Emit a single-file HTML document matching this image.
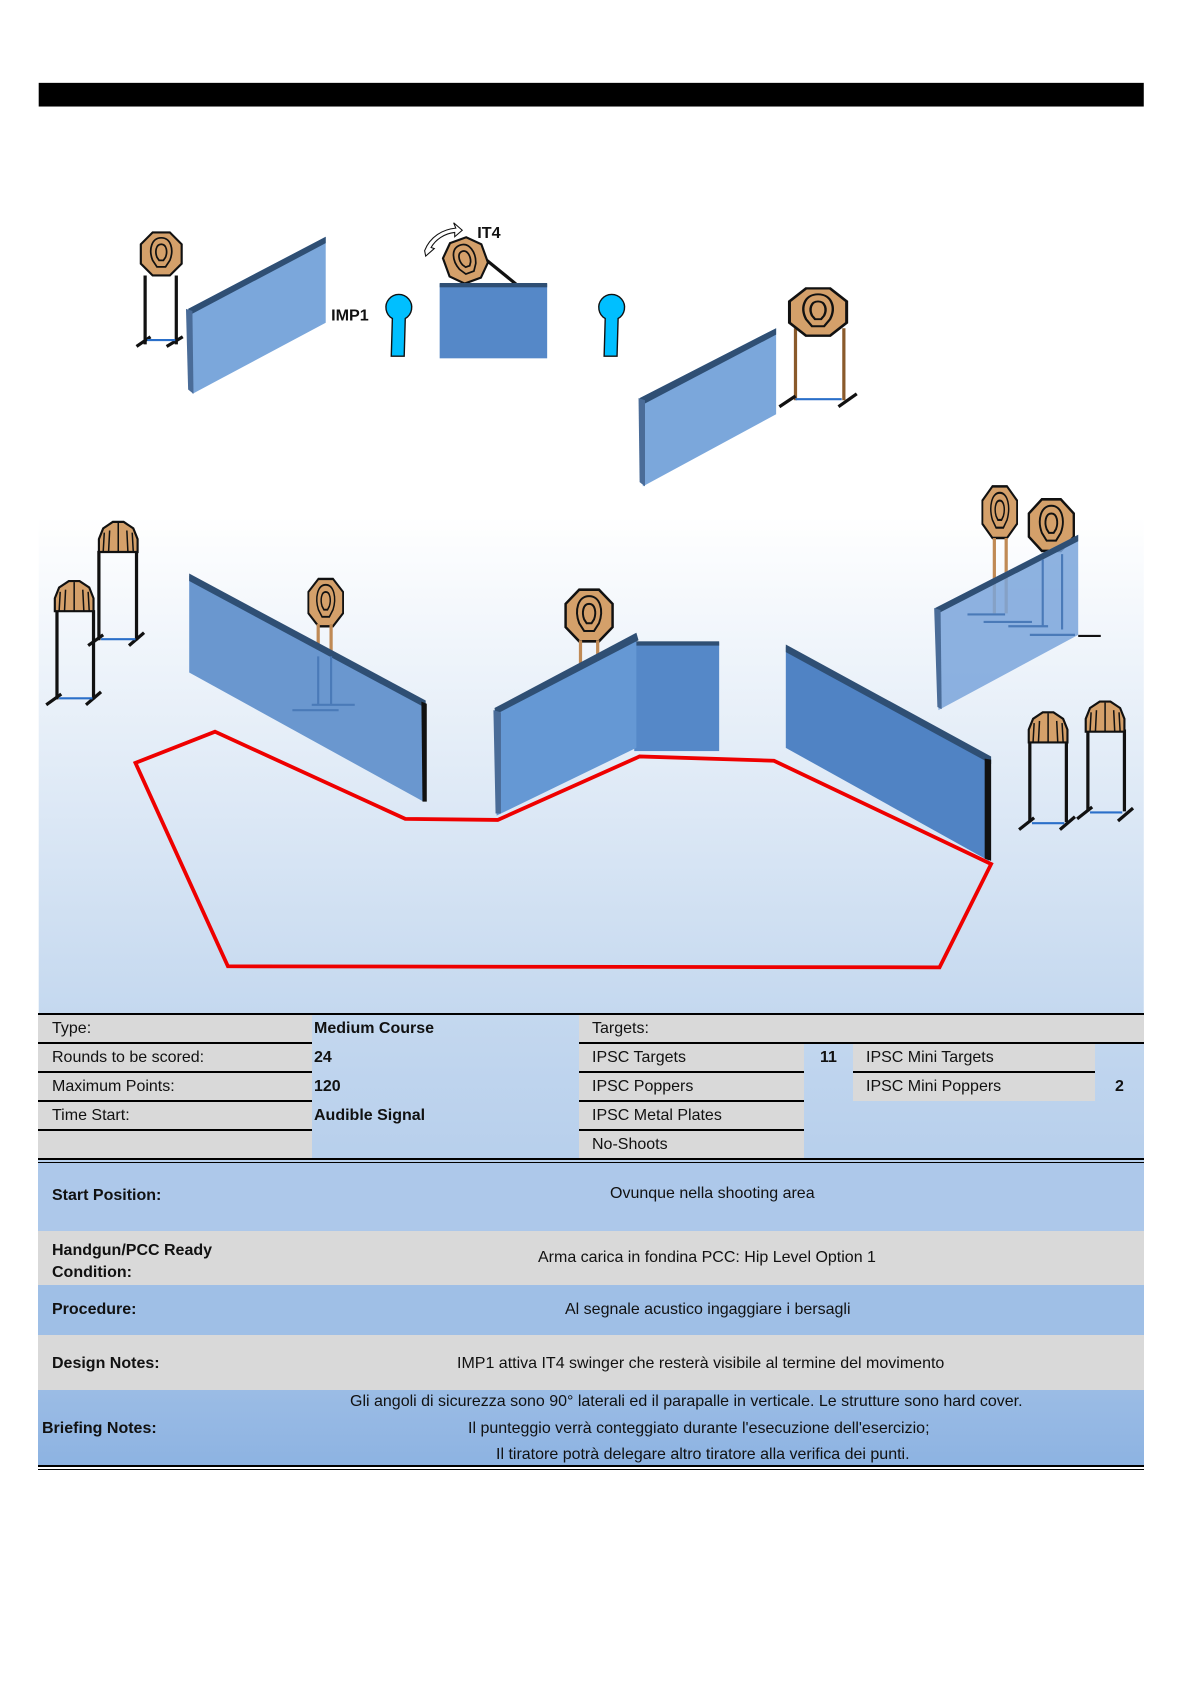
<!DOCTYPE html>
<html><head><meta charset="utf-8">
<style>
html,body{margin:0;padding:0;background:#fff;}
#pg{position:relative;width:1190px;height:1684px;overflow:hidden;font-family:"Liberation Sans",Arial,sans-serif;}
svg{position:absolute;left:0;top:0;}
.t{position:absolute;font-size:16px;color:#111;white-space:nowrap;}
.b{font-weight:bold;}
.g{position:absolute;background:#d9d9d9;}
.ln{position:absolute;background:#000;height:2px;}
</style></head><body><div id="pg">
<svg width="1190" height="1684" viewBox="0 0 1107 1565" preserveAspectRatio="none">
<defs>
<linearGradient id="bg" x1="0" y1="0" x2="0" y2="1">
<stop offset="0" stop-color="#ffffff"/><stop offset="1" stop-color="#c4d8ef"/></linearGradient>
<g id="tg">
<polygon points="-8,-20 8,-20 19,-9 19,9 8,20 -8,20 -19,9 -19,-9" fill="#d4a06a" stroke="#111" stroke-width="2"/>
<path d="M0,-15 C9,-15 12,-4 8,6 L4,12 L-4,12 L-8,6 C-12,-4 -9,-15 0,-15Z" fill="none" stroke="#111" stroke-width="1.6"/>
<path d="M0,-9 C5,-9 6,-2 4,3 L2,6 L-2,6 L-4,3 C-6,-2 -5,-9 0,-9Z" fill="none" stroke="#111" stroke-width="1.6"/>
</g>
<g id="tgh">
<path d="M-14,-12 L-5,-18 L5,-18 L14,-12 L18,-2 L18,10 L-18,10 L-18,-2Z" fill="#d4a06a" stroke="#111" stroke-width="2"/>
<path d="M-9,10 L-8,-10 M0,10 L0,-17 M9,10 L8,-10 M-14,10 L-13,-8 M14,10 L13,-8" stroke="#111" stroke-width="1.4" fill="none"/>
</g>
</defs>
<rect x="36" y="480" width="1028" height="464" fill="url(#bg)"/>
<rect x="36" y="77" width="1028" height="22" fill="#000"/>

<g stroke="#111" stroke-width="3"><line x1="135" y1="256" x2="135" y2="320"/><line x1="164" y1="256" x2="164" y2="320"/>
<line x1="127" y1="322" x2="140" y2="313"/><line x1="155" y1="322" x2="170" y2="313"/></g>
<line x1="137" y1="316" x2="163" y2="316" stroke="#2a6fc9" stroke-width="2"/>
<use href="#tg" transform="translate(150,236)"/>
<polygon points="175,287 303,220 303,300 179,366" fill="#7ba7db"/>
<polygon points="175,287 303,220 303,226 178,292" fill="#2f4f74"/>
<polygon points="173,287 179,289 180,366 175,362" fill="#4a6c98"/>
<text x="308" y="298" font-family="Liberation Sans,sans-serif" font-weight="bold" font-size="15" fill="#111">IMP1</text>
<g fill="#00bfff" stroke="#111" stroke-width="1.3">
<path d="M365,296 A12,12 0 1 1 377,296 L376,331 L364,331Z"/>
<path d="M563,296 A12,12 0 1 1 575,296 L574,331 L562,331Z"/></g>
<line x1="448" y1="238" x2="480" y2="264" stroke="#111" stroke-width="3"/>
<use href="#tg" transform="translate(433,242) rotate(-20)"/>
<path d="M395,233 C400,220 412,213 424,212 L422,207 L430,214 L423,220 L423,216 C413,217 405,223 401,230 L404,231 L396,238Z" fill="#fff" stroke="#111" stroke-width="1"/>
<text x="444" y="221" font-family="Liberation Sans,sans-serif" font-weight="bold" font-size="15" fill="#111">IT4</text>
<rect x="409" y="264" width="100" height="69" fill="#5588c8"/>
<rect x="409" y="263" width="100" height="4" fill="#2f4f74"/>
<g stroke="#8a5a2b" stroke-width="3"><line x1="740" y1="305" x2="740" y2="372"/><line x1="785" y1="305" x2="785" y2="372"/></g>
<g stroke="#111" stroke-width="3"><line x1="725" y1="378" x2="740" y2="368"/><line x1="780" y1="378" x2="797" y2="366"/></g>
<line x1="740" y1="371" x2="783" y2="371" stroke="#2a6fc9" stroke-width="2"/>
<use href="#tg" transform="translate(761,290) scale(1.4,1.1)"/>
<polygon points="595,370 722,305 722,385 598,452" fill="#7ba7db"/>
<polygon points="595,370 722,305 722,311 598,376" fill="#2f4f74"/>
<polygon points="594,370 600,372 600,452 595,448" fill="#4a6c98"/>

<g stroke="#111" stroke-width="3"><line x1="92" y1="512" x2="92" y2="595"/><line x1="127" y1="512" x2="127" y2="595"/>
<line x1="82" y1="600" x2="96" y2="590"/><line x1="120" y1="600" x2="134" y2="588"/></g>
<line x1="94" y1="594" x2="126" y2="594" stroke="#2a6fc9" stroke-width="2"/>
<use href="#tgh" transform="translate(110,503)"/>
<g stroke="#111" stroke-width="3"><line x1="53" y1="567" x2="53" y2="650"/><line x1="87" y1="567" x2="87" y2="650"/>
<line x1="43" y1="655" x2="57" y2="645"/><line x1="80" y1="655" x2="94" y2="643"/></g>
<line x1="55" y1="649" x2="86" y2="649" stroke="#2a6fc9" stroke-width="2"/>
<use href="#tgh" transform="translate(69,558)"/>

<use href="#tg" transform="translate(303,560) scale(0.85,1.1)"/>
<g stroke="#c08a55" stroke-width="3"><line x1="296" y1="580" x2="296" y2="620"/><line x1="308" y1="580" x2="308" y2="620"/></g>
<polygon points="176,535 394,652 394,745 176,625" fill="#6a97cf"/>
<polygon points="176,533 396,651 396,658 176,540" fill="#2f4f74"/>
<polygon points="392,652 397,654 397,745 393,745" fill="#111"/>
<g stroke="#4a7ab8" stroke-width="2" fill="none"><line x1="296" y1="610" x2="296" y2="655"/><line x1="308" y1="610" x2="308" y2="655"/><line x1="272" y1="660" x2="315" y2="660"/><line x1="290" y1="655" x2="330" y2="655"/></g>

<use href="#tg" transform="translate(548,572) scale(1.15,1.2)"/>
<g stroke="#c08a55" stroke-width="3"><line x1="540" y1="595" x2="540" y2="620"/><line x1="556" y1="595" x2="556" y2="615"/></g>
<rect x="590" y="597" width="79" height="101" fill="#5588c8"/>
<rect x="590" y="596" width="79" height="4" fill="#2f4f74"/>
<polygon points="460,660 592,590 592,695 462,758" fill="#6598d4"/>
<polygon points="460,658 592,588 594,595 461,664" fill="#2f4f74"/>
<polygon points="459,660 466,662 466,756 461,756" fill="#4a6c98"/>

<polygon points="731,601 920,705 920,800 731,695" fill="#5083c4"/>
<polygon points="731,599 922,703 922,710 731,606" fill="#2f4f74"/>
<polygon points="916,705 922,706 922,800 916,798" fill="#111"/>

<use href="#tg" transform="translate(930,476) scale(0.85,1.2)"/>
<g stroke="#c08a55" stroke-width="3"><line x1="925" y1="500" x2="925" y2="570"/><line x1="936" y1="500" x2="936" y2="570"/></g>
<use href="#tg" transform="translate(978,488) scale(1.1,1.2)"/>
<polygon points="870,565 1003,497 1003,590 873,660" fill="#7aa5db" fill-opacity="0.85"/>
<polygon points="870,565 1003,497 1003,503 871,571" fill="#2f4f74"/>
<polygon points="869,565 875,567 876,659 872,657" fill="#4a6c98"/>
<g stroke="#4a7ab8" stroke-width="2" fill="none"><line x1="970" y1="520" x2="970" y2="582"/><line x1="988" y1="515" x2="988" y2="585"/><line x1="900" y1="571" x2="935" y2="571"/><line x1="915" y1="578" x2="960" y2="578"/><line x1="938" y1="582" x2="975" y2="582"/><line x1="958" y1="590" x2="1000" y2="590"/></g>
<line x1="1003" y1="591" x2="1024" y2="591" stroke="#111" stroke-width="2"/>

<g stroke="#111" stroke-width="3"><line x1="958" y1="688" x2="958" y2="764"/><line x1="992" y1="688" x2="992" y2="764"/>
<line x1="948" y1="771" x2="962" y2="760"/><line x1="986" y1="771" x2="1000" y2="759"/>
<line x1="1012" y1="678" x2="1012" y2="754"/><line x1="1046" y1="678" x2="1046" y2="754"/>
<line x1="1002" y1="761" x2="1016" y2="750"/><line x1="1040" y1="763" x2="1054" y2="751"/></g>
<line x1="960" y1="765" x2="990" y2="765" stroke="#2a6fc9" stroke-width="2"/>
<line x1="1014" y1="755" x2="1044" y2="755" stroke="#2a6fc9" stroke-width="2"/>
<use href="#tgh" transform="translate(975,680)"/>
<use href="#tgh" transform="translate(1028,670)"/>

<polygon points="126,709 200,680 377,761 463,762 595,703 720,707 922,803 874,899 212,898" fill="none" stroke="#ee0000" stroke-width="3.5"/>
</svg>

<div style="position:absolute;left:38px;top:1014px;width:1106px;height:148px;background:linear-gradient(#c4d8ef,#b7cfec);"></div>
<div class="g" style="left:38px;top:1014px;width:274px;height:146px;"></div>
<div class="g" style="left:579px;top:1014px;width:565px;height:29px;"></div>
<div class="g" style="left:579px;top:1043px;width:225px;height:117px;"></div>
<div class="g" style="left:853px;top:1043px;width:242px;height:58px;"></div>
<div class="ln" style="left:38px;top:1013px;width:1106px;"></div>
<div class="ln" style="left:38px;top:1042px;width:274px;"></div>
<div class="ln" style="left:579px;top:1042px;width:565px;"></div>
<div class="ln" style="left:38px;top:1071px;width:274px;"></div>
<div class="ln" style="left:579px;top:1071px;width:225px;"></div>
<div class="ln" style="left:853px;top:1071px;width:242px;"></div>
<div class="ln" style="left:38px;top:1100px;width:274px;"></div>
<div class="ln" style="left:579px;top:1100px;width:225px;"></div>
<div class="ln" style="left:38px;top:1129px;width:274px;"></div>
<div class="ln" style="left:579px;top:1129px;width:225px;"></div>
<div class="ln" style="left:38px;top:1158px;width:1106px;"></div>
<div class="ln" style="left:38px;top:1162px;width:1106px;height:1px;"></div>
<div class="t" style="left:52px;top:1020px;">Type:</div>
<div class="t b" style="left:314px;top:1020px;">Medium Course</div>
<div class="t" style="left:592px;top:1020px;">Targets:</div>
<div class="t" style="left:52px;top:1049px;">Rounds to be scored:</div>
<div class="t b" style="left:314px;top:1049px;">24</div>
<div class="t" style="left:592px;top:1049px;">IPSC Targets</div>
<div class="t b" style="left:820px;top:1049px;">11</div>
<div class="t" style="left:866px;top:1049px;">IPSC Mini Targets</div>
<div class="t" style="left:52px;top:1078px;">Maximum Points:</div>
<div class="t b" style="left:314px;top:1078px;">120</div>
<div class="t" style="left:592px;top:1078px;">IPSC Poppers</div>
<div class="t" style="left:866px;top:1078px;">IPSC Mini Poppers</div>
<div class="t b" style="left:1115px;top:1078px;">2</div>
<div class="t" style="left:52px;top:1107px;">Time Start:</div>
<div class="t b" style="left:314px;top:1107px;">Audible Signal</div>
<div class="t" style="left:592px;top:1107px;">IPSC Metal Plates</div>
<div class="t" style="left:592px;top:1136px;">No-Shoots</div>

<div style="position:absolute;left:38px;top:1163px;width:1106px;height:68px;background:#adc8ea;"></div>
<div style="position:absolute;left:38px;top:1231px;width:1106px;height:54px;background:#d9d9d9;"></div>
<div style="position:absolute;left:38px;top:1285px;width:1106px;height:50px;background:#9fbfe6;"></div>
<div style="position:absolute;left:38px;top:1335px;width:1106px;height:55px;background:#d9d9d9;"></div>
<div style="position:absolute;left:38px;top:1390px;width:1106px;height:75px;background:linear-gradient(#9bbce5,#8db3e2);"></div>
<div class="ln" style="left:38px;top:1465px;width:1106px;"></div>
<div class="ln" style="left:38px;top:1469px;width:1106px;height:1px;"></div>
<div class="t b" style="left:52px;top:1187px;">Start Position:</div>
<div class="t" style="left:610px;top:1185px;">Ovunque nella shooting area</div>
<div class="t b" style="left:52px;top:1240px;line-height:22px;">Handgun/PCC Ready<br>Condition:</div>
<div class="t" style="left:538px;top:1249px;">Arma carica in fondina PCC: Hip Level Option 1</div>
<div class="t b" style="left:52px;top:1301px;">Procedure:</div>
<div class="t" style="left:565px;top:1301px;">Al segnale acustico ingaggiare i bersagli</div>
<div class="t b" style="left:52px;top:1355px;">Design Notes:</div>
<div class="t" style="left:457px;top:1355px;">IMP1 attiva IT4 swinger che resterà visibile al termine del movimento</div>
<div class="t b" style="left:42px;top:1420px;">Briefing Notes:</div>
<div class="t" style="left:350px;top:1393px;">Gli angoli di sicurezza sono 90° laterali ed il parapalle in verticale. Le strutture sono hard cover.</div>
<div class="t" style="left:468px;top:1420px;">Il punteggio verrà conteggiato durante l'esecuzione dell'esercizio;</div>
<div class="t" style="left:496px;top:1446px;">Il tiratore potrà delegare altro tiratore alla verifica dei punti.</div>
</div></body></html>
